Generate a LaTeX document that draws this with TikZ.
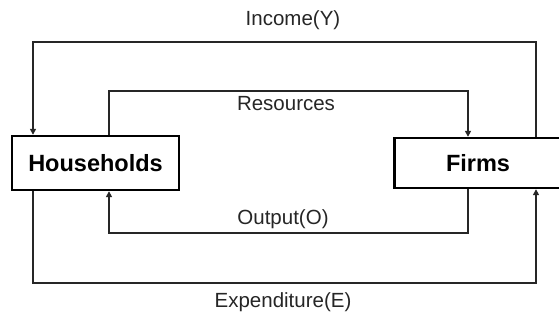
\documentclass[tikz,border=0pt]{standalone}
\usepackage{fontspec}
\setmainfont{Liberation Sans}
\usetikzlibrary{arrows.meta}
\begin{document}
\begin{tikzpicture}[x=1pt,y=-1pt,
  agent/.style={draw=black,line width=2.4pt,fill=white,inner sep=0pt,font=\fontsize{23.5}{26}\selectfont\bfseries},
  flow/.style={draw=black!85,line width=1.6pt,-{Triangle[length=6pt,width=6pt]}},
  lbl/.style={inner sep=0pt,font=\fontsize{20.5}{22}\selectfont,text=black!85}]
\useasboundingbox (0,0) rectangle (559,320);
\clip (0,0) rectangle (559,320);
\fill[white] (0,0) rectangle (559,320);
\node[agent,minimum width=167pt,minimum height=54pt] (H) at (95.5,163) {Households};
\node[agent,minimum width=167pt,minimum height=50pt] (F) at (478,163) {Firms};
\coordinate (yinc) at (0,42);
\coordinate (yres) at (0,91);
\coordinate (yout) at (0,233);
\coordinate (yexp) at (0,283);
\coordinate (fo) at ([xshift=58pt]F.north);
\coordinate (ho) at ([xshift=-62.5pt]H.north);
\coordinate (hi) at ([xshift=13.5pt]H.north);
\coordinate (fi) at ([xshift=-10pt]F.north);
\coordinate (fob) at ([xshift=58pt]F.south);
\coordinate (hob) at ([xshift=-62.5pt]H.south);
\coordinate (hib) at ([xshift=13.5pt]H.south);
\coordinate (fib) at ([xshift=-10pt]F.south);
\draw[flow] (fo) -- (fo |- yinc) -- (ho |- yinc) -- (ho);
\draw[flow] (hi) -- (hi |- yres) -- (fi |- yres) -- (fi);
\draw[flow] (fib) -- (fib |- yout) -- (hib |- yout) -- (hib);
\draw[flow] (hob) -- (hob |- yexp) -- (fob |- yexp) -- (fob);
\node[lbl] (li) at (293,20) {Income(Y)};
\node[lbl] (lr) at (286,104) {Resources};
\node[lbl] (lo) at (283,219) {Output(O)};
\node[lbl] (le) at (283,302) {Expenditure(E)};
\end{tikzpicture}
\end{document}
